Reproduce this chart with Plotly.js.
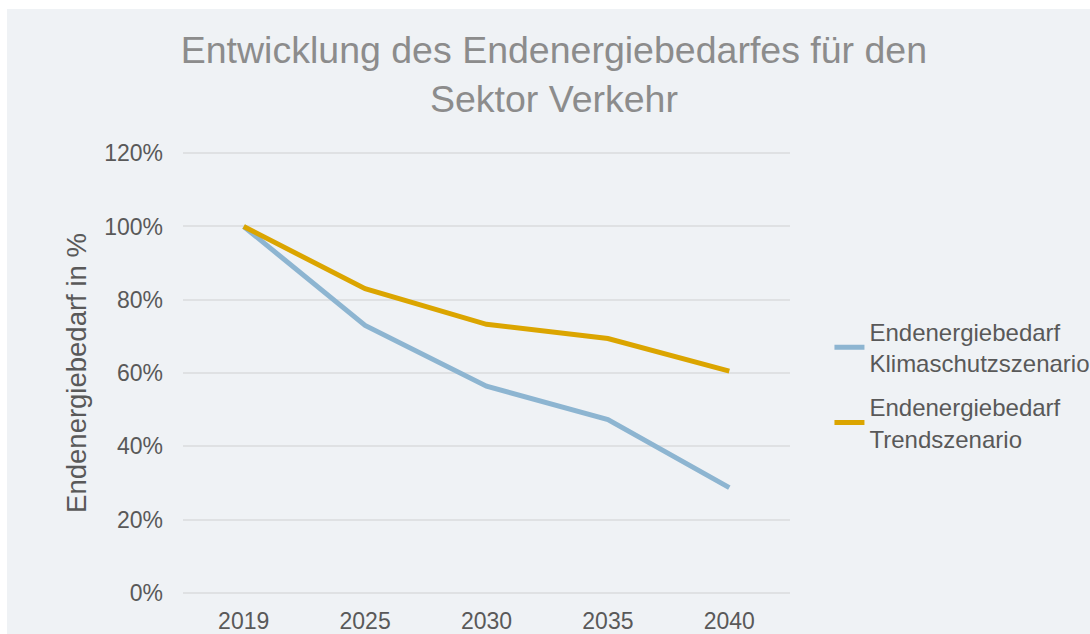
<!DOCTYPE html>
<html>
<head>
<meta charset="utf-8">
<script src="https://cdn.plot.ly/plotly-3.0.1.min.js"></script>
<style>
  html, body { margin: 0; padding: 0; background: #ffffff; }
  #chart { position: absolute; left: 7px; top: 9px; width: 1083px; height: 625px; }
</style>
</head>
<body>
<div id="chart"></div>
<script>
const years = ["2019", "2025", "2030", "2035", "2040"];
const klimaschutz = [1.00, 0.730, 0.564, 0.473, 0.287];
const trend = [1.00, 0.830, 0.733, 0.694, 0.605];
const seriesNames = ["Endenergiebedarf<br>Klimaschutzszenario", "Endenergiebedarf<br>Trendszenario"];
const yTickVals = [0, 0.2, 0.4, 0.6, 0.8, 1.0, 1.2];
const yTickText = ["0%", "20%", "40%", "60%", "80%", "100%", "120%"];

const font = "Liberation Sans, Arial, sans-serif";

const traces = [
  {
    x: years, y: klimaschutz, name: seriesNames[0], legendgroup: "a",
    type: "scatter", mode: "lines",
    line: { color: "#8db5d1", width: 5 }
  },
  {
    x: years, y: trend, name: seriesNames[1], legendgroup: "b",
    type: "scatter", mode: "lines",
    line: { color: "#dba500", width: 5 }
  }
];

const layout = {
  width: 1083, height: 625,
  paper_bgcolor: "#eff2f5",
  plot_bgcolor: "#eff2f5",
  margin: { l: 176, r: 300, t: 142, b: 39, pad: 0, autoexpand: false },
  font: { family: font, color: "#595959", size: 23 },
  title: {
    text: "Entwicklung des Endenergiebedarfes für den<br>Sektor Verkehr",
    font: { family: font, size: 37.5, color: "#8c8c8c" },
    x: 0.505, xanchor: "center",
    y: 0.913, yanchor: "top"
  },
  xaxis: {
    type: "category",
    range: [-0.5, 4.5],
    showgrid: false, zeroline: false, showline: false,
    ticks: "", ticklabelstandoff: 10,
    tickfont: { family: font, size: 23, color: "#595959" }
  },
  yaxis: {
    range: [-0.006, 1.206],
    tickvals: yTickVals, ticktext: yTickText,
    showgrid: true, gridcolor: "#dfe1e3", gridwidth: 2,
    zeroline: false, showline: false,
    ticks: "", ticklabelstandoff: 19,
    tickfont: { family: font, size: 23, color: "#595959" },
    title: { text: "Endenergiebedarf in %", font: { family: font, size: 27.5, color: "#595959" }, standoff: 9 }
  },
  legend: {
    x: 1.065, xanchor: "left",
    y: 0.473, yanchor: "middle",
    bgcolor: "rgba(0,0,0,0)",
    font: { family: font, size: 24, color: "#595959" },
    tracegroupgap: 10
  },
  showlegend: true
};

Plotly.newPlot("chart", traces, layout, { displayModeBar: false, staticPlot: true });
</script>
</body>
</html>
